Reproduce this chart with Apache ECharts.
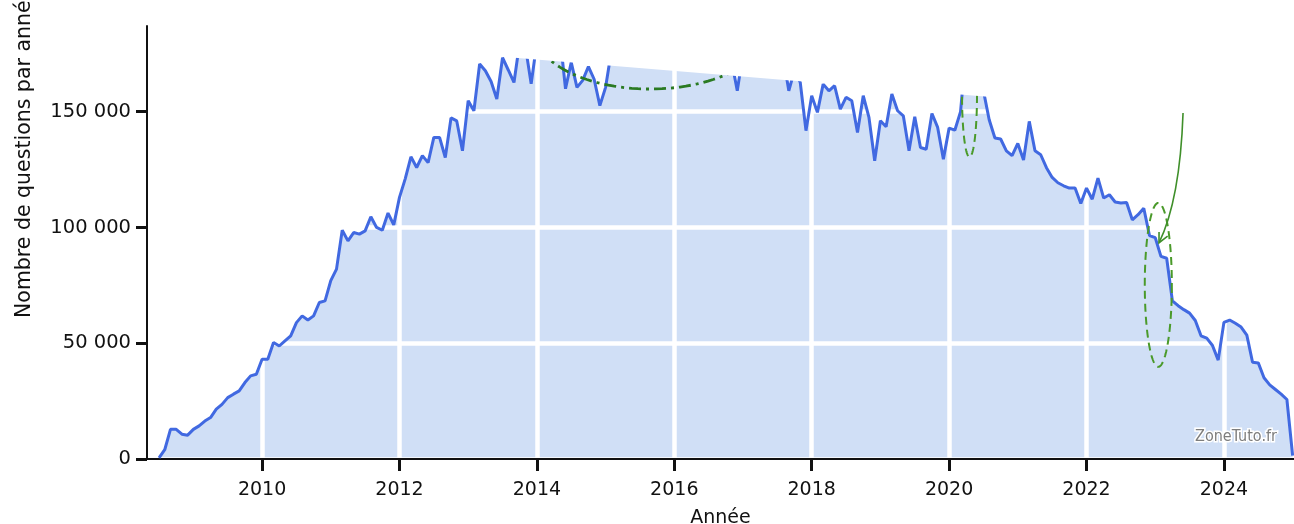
<!DOCTYPE html>
<html>
<head>
<meta charset="utf-8">
<script src="https://cdn.jsdelivr.net/npm/echarts@6/dist/echarts.min.js"></script>
<style>html,body{margin:0;padding:0;background:#fff}#c{width:1294px;height:524px}</style>
</head>
<body>
<div id="c"></div>
<script>
// Monthly question counts (Stack Overflow)
const q2008 = [500, 4000, 12800, 12800, 10700, 10300]; // Jul..Dec
const q2009 = [12800, 14300, 16400, 17900, 21500, 23600, 26500, 28000, 29400, 33000, 35900, 36600];
const q2010 = [43100, 43100, 50300, 48800, 51000, 53200, 58900, 61800, 60000, 61800, 67600, 68300];
const q2011 = [77000, 82000, 98800, 94200, 97800, 97100, 98500, 104600, 100000, 98800, 106200, 101100];
const q2012 = [113000, 121000, 130500, 125900, 131000, 128000, 138900, 138900, 130200, 147300, 146000, 133100];
const q2013 = [154700, 150400, 170600, 167700, 163000, 155500, 173300, 168000, 162600, 180000, 178000, 162000];
const q2014 = [180000, 181000, 186000, 184000, 183000, 159900, 171300, 160500, 163500, 169500, 164000, 152600];
const q2015 = [160500, 176000, 185000, 180000, 178000, 180000, 182000, 172000, 178000, 182000, 180000, 170000];
const q2016 = [178000, 182000, 186000, 183000, 184000, 180000, 176000, 181000, 176000, 178000, 172000, 159000];
const q2017 = [175000, 176000, 185000, 174000, 182000, 176000, 172000, 174000, 159000, 168000, 162600, 141800];
const q2018 = [156900, 149700, 161900, 159000, 161200, 151100, 156200, 154700, 141000, 156900, 147500, 128800];
const q2019 = [146100, 143500, 157600, 150400, 148200, 133100, 147800, 134500, 133800, 149200, 143200, 129500];
const q2020 = [142900, 142000, 150000, 178000, 176000, 172000, 159000, 146500, 138600, 138200, 133100, 131000];
const q2021 = [136300, 129100, 145800, 133100, 131400, 125800, 121600, 119300, 118000, 117000, 117000, 110300];
const q2022 = [117000, 112200, 121300, 112700, 114100, 111000, 110600, 110800, 103300, 105500, 108300, 96500];
const q2023 = [95600, 87500, 86700, 68300, 66200, 64500, 63000, 59800, 53200, 52200, 49000, 42700];
const q2024 = [59000, 60000, 58600, 57000, 53500, 41800, 41500, 35100, 32000, 30000, 28000, 25700];
const q2025 = [1500]; // Jan

const yTickValues = [0, 50000, 100000, 150000];
const xTickValues = [2010, 2012, 2014, 2016, 2018, 2020, 2022, 2024];

// Top edge of the picture is cut along a slanted line (year, value)
const cutEdge = [[2008.34, 186400], [2025.03, 145500]];

// Hand-drawn annotations: [centre year, centre value, half-width (years), half-height (value)]
const ellipses = [
  [2015.646, 185240, 1.688, 25460],
  [2020.297, 157190, 0.109, 26760],
  [2023.045, 75190, 0.197, 35390]
];
// Arrow: [start year, start value, control year, control value, end year, end value]
const arrows = [[2023.405, 149420, 2023.361, 111920, 2023.055, 93310]];

const years = [[2008, q2008, 7], [2009, q2009, 1], [2010, q2010, 1], [2011, q2011, 1], [2012, q2012, 1],
  [2013, q2013, 1], [2014, q2014, 1], [2015, q2015, 1], [2016, q2016, 1], [2017, q2017, 1],
  [2018, q2018, 1], [2019, q2019, 1], [2020, q2020, 1], [2021, q2021, 1], [2022, q2022, 1],
  [2023, q2023, 1], [2024, q2024, 1], [2025, q2025, 1]];
const series = [];
years.forEach(([y, arr, m0]) => arr.forEach((v, i) => series.push([y + (m0 - 1 + i) / 12, v])));

const FONT = 'DejaVu Sans';
const fmt = v => String(v).replace(/\B(?=(\d{3})+(?!\d))/g, ' ');

const chart = echarts.init(document.getElementById('c'), null, {renderer: 'canvas'});
chart.setOption({
  animation: false,
  backgroundColor: '#fff',
  grid: {left: 147, right: 0, top: 26, bottom: 65, containLabel: false, outerBoundsMode: 'none'},
  xAxis: {
    type: 'value', min: 2008.325, max: 2025.02, z: 2,
    name: 'Année', nameLocation: 'middle', nameGap: 50,
    nameTextStyle: {fontFamily: FONT, fontSize: 19, color: '#111'},
    axisLine: {show: true, lineStyle: {color: '#111', width: 2}},
    axisTick: {show: true, customValues: xTickValues, length: 12, lineStyle: {color: '#111', width: 3}},
    axisLabel: {customValues: xTickValues, fontFamily: FONT, fontSize: 19, color: '#111', margin: 22,
      formatter: v => String(v)},
    splitLine: {show: true, lineStyle: {color: '#fff', width: 4.5}}
  },
  yAxis: {
    type: 'value', min: 0, max: 187000, z: 2,
    axisLine: {show: true, lineStyle: {color: '#111', width: 2}},
    axisTick: {show: true, customValues: yTickValues, length: 11, lineStyle: {color: '#111', width: 3}},
    axisLabel: {customValues: yTickValues, fontFamily: FONT, fontSize: 19.5, color: '#111', margin: 16,
      formatter: v => fmt(v)},
    splitLine: {show: true, lineStyle: {color: '#fff', width: 4.5}}
  },
  series: [
    {type: 'line', data: series, z: 1, showSymbol: false, silent: true,
      lineStyle: {width: 0, opacity: 0}, areaStyle: {color: '#d0dff6', opacity: 1}},
    {type: 'line', data: series, z: 3, showSymbol: false, silent: true,
      lineStyle: {width: 3, color: '#4169e1'}},
    {type: 'custom', z: 3.5, clip: true, silent: true, data: ellipses,
      renderItem: (params, api) => {
        const c = api.coord([api.value(0), api.value(1)]);
        const rx = api.size([api.value(2), 0])[0];
        const ry = api.size([0, api.value(3)])[1];
        const pts = [];
        for (let k = 0; k <= 120; k++) {
          const t = k / 120 * Math.PI * 2;
          pts.push([c[0] + rx * Math.cos(t), c[1] + ry * Math.sin(t)]);
        }
        const first = params.dataIndex === 0;
        return {type: 'polyline', shape: {points: pts},
          style: {fill: 'none', stroke: first ? '#2a7a22' : '#4a9a2a', lineWidth: first ? 2.8 : 2,
            lineDash: first ? [12, 5, 3, 5] : [8, 5]}};
      }},
    {type: 'custom', z: 3.5, clip: true, silent: true, data: arrows,
      renderItem: (params, api) => {
        const p0 = api.coord([api.value(0), api.value(1)]);
        const pc = api.coord([api.value(2), api.value(3)]);
        const p1 = api.coord([api.value(4), api.value(5)]);
        const dx = p1[0] - pc[0], dy = p1[1] - pc[1];
        const L = Math.hypot(dx, dy), ux = dx / L, uy = dy / L;
        const hl = 11, ang = 0.45;
        const wing = s => [p1[0] - hl * (ux * Math.cos(ang) - s * uy * Math.sin(ang)),
                           p1[1] - hl * (uy * Math.cos(ang) + s * ux * Math.sin(ang))];
        return {type: 'group', children: [
          {type: 'path', shape: {pathData: `M${p0[0]},${p0[1]} Q${pc[0]},${pc[1]} ${p1[0]},${p1[1]}`},
            style: {fill: 'none', stroke: '#3f8f2a', lineWidth: 1.6}},
          {type: 'polyline', shape: {points: [wing(1), p1, wing(-1)]},
            style: {fill: 'none', stroke: '#3f8f2a', lineWidth: 1.6}}
        ]};
      }},
    {type: 'line', data: cutEdge, z: 4, showSymbol: false, silent: true,
      lineStyle: {width: 0, opacity: 0}, areaStyle: {color: '#fff', opacity: 1, origin: 'end'}}
  ],
  graphic: [
    {type: 'text', x: 25, y: 318, rotation: Math.PI / 2, z: 10,
      style: {text: 'Nombre de questions par année', font: '20.5px "DejaVu Sans"', fill: '#111',
        align: 'left', verticalAlign: 'middle'}},
    {type: 'text', x: 1236, y: 437, z: 10,
      style: {text: 'ZoneTuto.fr', font: '16px "DejaVu Sans Condensed", "DejaVu Sans"', fill: '#7d7d7d',
        stroke: '#fff', lineWidth: 3, align: 'center', verticalAlign: 'middle'}}
  ]
});
</script>
</body>
</html>
